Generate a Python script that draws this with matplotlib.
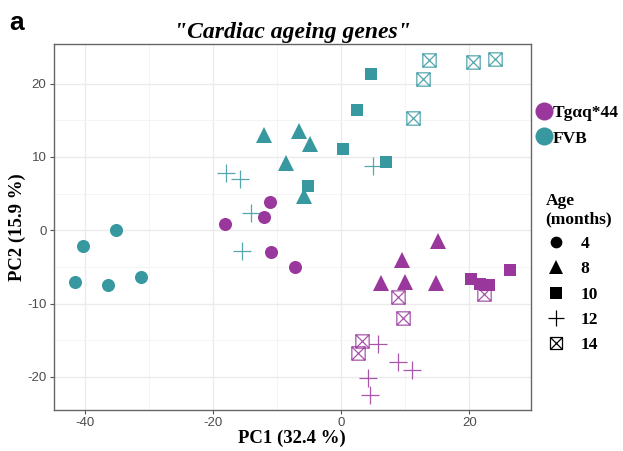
import numpy as np
import matplotlib
matplotlib.use('Agg')
import matplotlib.pyplot as plt
from matplotlib.path import Path
from matplotlib.lines import Line2D

plt.rcParams['axes.unicode_minus'] = False

# PCA scores
fvb_4_x = [-41.5, -40.3, -36.4, -35.1, -31.2]
fvb_4_y = [-7.1, -2.1, -7.4, 0.0, -6.4]
fvb_8_x = [-12.0, -8.6, -6.6, -4.9, -5.8]
fvb_8_y = [13.0, 9.2, 13.5, 11.8, 4.7]
fvb_10_x = [4.7, 2.4, 0.2, 6.9, -5.2]
fvb_10_y = [21.3, 16.4, 11.1, 9.3, 6.0]
fvb_12_x = [-18.0, -15.8, -14.1, -15.5, 5.0]
fvb_12_y = [7.8, 7.0, 2.3, -2.8, 8.7]
fvb_14_x = [13.7, 12.7, 20.6, 24.0, 11.2]
fvb_14_y = [23.2, 20.6, 23.0, 23.3, 15.3]

tg_4_x = [-18.2, -12.1, -11.1, -10.9, -7.2]
tg_4_y = [0.9, 1.8, 3.8, -3.0, -5.0]
tg_8_x = [15.1, 9.5, 6.2, 10.0, 14.7]
tg_8_y = [-1.4, -4.0, -7.2, -7.0, -7.2]
tg_10_x = [20.3, 21.6, 22.4, 23.1, 26.3]
tg_10_y = [-6.7, -7.3, -7.4, -7.5, -5.4]
tg_12_x = [5.7, 8.9, 11.1, 4.2, 4.5]
tg_12_y = [-15.5, -18.0, -19.1, -20.2, -22.5]
tg_14_x = [8.8, 9.6, 3.2, 2.6, 22.2]
tg_14_y = [-9.1, -11.9, -15.1, -16.7, -8.7]

groups = ['Tg\u03b1q*44', 'FVB']
ages = ['4', '8', '10', '12', '14']

purple = '#9a379c'
teal = '#37989f'

# square with an X, like ggplot shape 7
boxx = Path([(-1, -1), (1, -1), (1, 1), (-1, 1), (-1, -1),
             (-1, -1), (1, 1), (-1, 1), (1, -1)],
            [Path.MOVETO, Path.LINETO, Path.LINETO, Path.LINETO, Path.CLOSEPOLY,
             Path.MOVETO, Path.LINETO, Path.MOVETO, Path.LINETO])

style = {
    '4': dict(marker='o', ms=9.4, mew=0),
    '8': dict(marker='^', ms=11.5, mew=0),
    '10': dict(marker='s', ms=9.2, mew=0),
    '12': dict(marker='+', ms=13.5, mew=0.9),
    '14': dict(marker=boxx, ms=9.6, mew=0.9, mfc='none'),
}

fig = plt.figure(figsize=(6.23, 4.51), dpi=100)
ax = fig.add_axes([53.5 / 623, 1 - 410 / 451, (531 - 53.5) / 623, (410 - 44) / 451])

data = {
    'FVB': [(fvb_4_x, fvb_4_y), (fvb_8_x, fvb_8_y), (fvb_10_x, fvb_10_y),
            (fvb_12_x, fvb_12_y), (fvb_14_x, fvb_14_y)],
    'Tg': [(tg_4_x, tg_4_y), (tg_8_x, tg_8_y), (tg_10_x, tg_10_y),
           (tg_12_x, tg_12_y), (tg_14_x, tg_14_y)],
}
for grp, col in [('FVB', teal), ('Tg', purple)]:
    for age, (xs, ys) in zip(ages, data[grp]):
        st = dict(style[age])
        if age in ('12', '14'):
            ax.plot(xs, ys, ls='none', color=col, mec=col, alpha=0.85, **st)
        else:
            ax.plot(xs, ys, ls='none', color=col, **st)

ax.set_xlim(-44.9, 29.6)
ax.set_ylim(-24.5, 25.4)
ax.set_xticks([-40, -20, 0, 20])
ax.set_yticks([-20, -10, 0, 10, 20])
ax.set_xticks([-30, -10, 10], minor=True)
ax.set_yticks([-15, -5, 5, 15], minor=True)
ax.grid(which='major', color='#ebebeb', lw=1.0)
ax.grid(which='minor', color='#f3f3f3', lw=0.6)
ax.set_axisbelow(True)
ax.tick_params(which='major', length=3, color='#555555', width=0.8,
               labelsize=9.5, labelcolor='#4d4d4d', pad=2)
ax.tick_params(which='minor', length=0)
for lab in ax.get_xticklabels() + ax.get_yticklabels():
    lab.set_family('Liberation Sans')
for sp in ax.spines.values():
    sp.set_color('#666666')
    sp.set_linewidth(1.0)

serif = 'Liberation Serif'
ax.set_xlabel('PC1 (32.4 %)', family=serif, weight='bold', fontsize=13.5)
ax.set_ylabel('PC2 (15.9 %)', family=serif, weight='bold', fontsize=13.5)
ax.xaxis.set_label_coords(0.5, (410 - 438) / 366, transform=ax.transAxes)
ax.yaxis.set_label_coords((17 - 53.5) / 477.5, 0.5, transform=ax.transAxes)
ax.xaxis.label.set_va('center')
ax.yaxis.label.set_va('center')
ax.set_title('"Cardiac ageing genes"', family=serif, weight='bold', style='italic',
             fontsize=17, pad=4)
fig.text(9 / 623, 1 - 30 / 451, 'a', family='Liberation Sans', weight='bold', fontsize=19)

# legend for genotype
h1 = [Line2D([], [], ls='none', marker='o', ms=13, mew=0, color=c) for c in (purple, teal)]
leg1 = fig.legend(h1, groups, loc='upper left', bbox_to_anchor=(528 / 623, 1 - 96 / 451),
                  frameon=False, handlelength=0.8, handletextpad=0.1, labelspacing=0.55,
                  borderpad=0, prop=dict(family=serif, weight='bold', size=12.5))

# legend for age
h2 = []
for age in ages:
    st = dict(style[age])
    st['ms'] = st['ms'] * 0.9
    h2.append(Line2D([], [], ls='none', color='black', mec='black', **st))
leg2 = fig.legend(h2, ages, loc='upper left', bbox_to_anchor=(537 / 623, 1 - 184 / 451),
                  frameon=False, title='Age\n(months)', handlelength=1.2,
                  handletextpad=0.8, labelspacing=0.52, borderpad=0,
                  prop=dict(family=serif, weight='bold', size=12.5),
                  title_fontproperties=dict(family=serif, weight='bold', size=12.5))
leg2._legend_box.align = 'left'

fig.savefig('out.png', dpi=100)
